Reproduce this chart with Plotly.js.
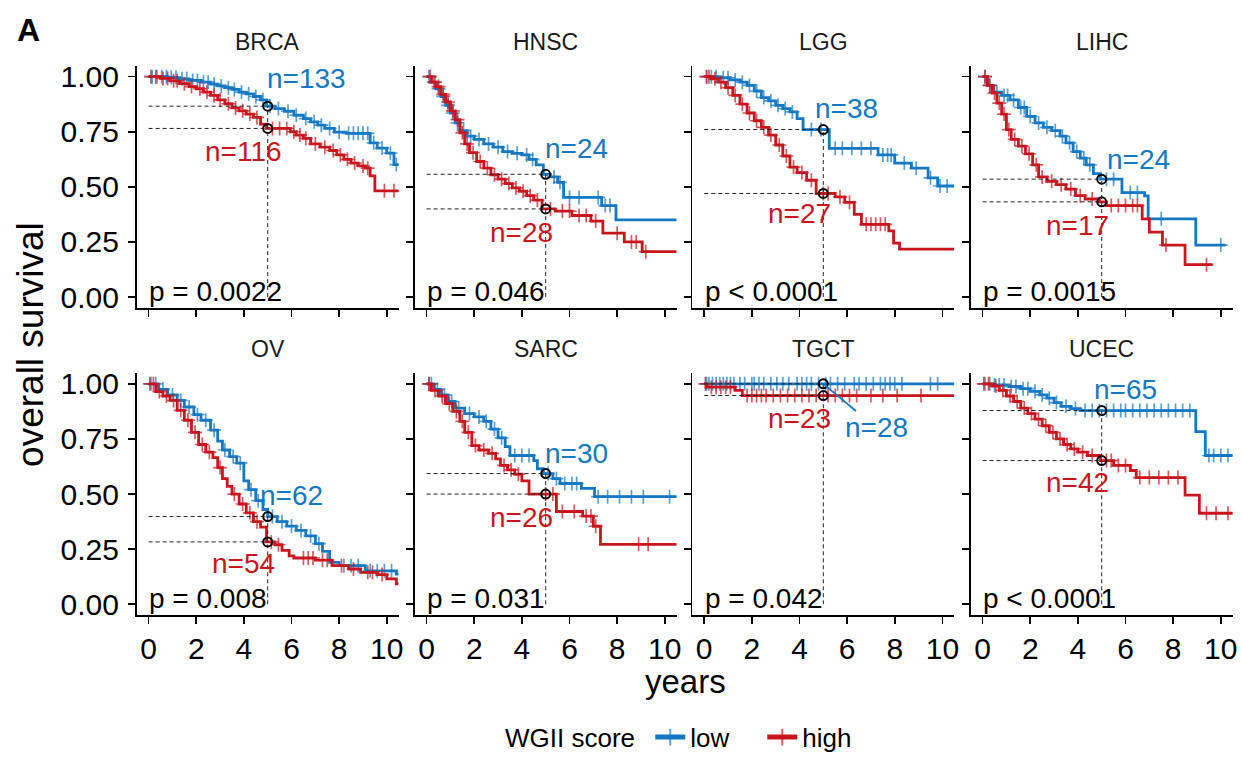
<!DOCTYPE html>
<html>
<head>
<meta charset="utf-8">
<script src="https://cdn.plot.ly/plotly-3.0.1.min.js"></script>
<style>html,body{margin:0;padding:0;background:#fff;}#chart{width:1242px;height:761px;}</style>
</head>
<body>
<div id="chart"></div>
<script>
// ---------------- DATA ----------------
const cancers = ['BRCA','HNSC','LGG','LIHC','OV','SARC','TGCT','UCEC'];
const pLabels = ['p = 0.0022','p = 0.046','p < 0.0001','p = 0.0015','p = 0.008','p = 0.031','p = 0.042','p < 0.0001'];
const nLow  = ['n=133','n=24','n=38','n=24','n=62','n=30','n=28','n=65'];
const nHigh = ['n=116','n=28','n=27','n=17','n=54','n=26','n=23','n=42'];
const groupNames = ['low','high'];
const landmarkYear = 5;
const xTicks = [0,2,4,6,8,10];
const yTicks = [0,0.25,0.5,0.75,1];
const yTickText = ['0.00','0.25','0.50','0.75','1.00'];

// step curves: time (years), survival, censor times
const BRCA_low_t = [0,0.8,1.3,1.7,2.2,2.6,2.9,3.2,3.5,3.8,4.1,4.4,4.7,4.95,5.3,5.7,6.1,6.5,6.8,7.1,7.4,7.8,8.3,9.3,9.6,10.0,10.3,10.5];
const BRCA_low_s = [1.0,0.996,0.99,0.983,0.975,0.966,0.958,0.95,0.942,0.93,0.922,0.91,0.895,0.866,0.855,0.843,0.825,0.81,0.795,0.78,0.765,0.748,0.743,0.70,0.676,0.653,0.601,0.601];
const BRCA_low_c = [0.15,0.35,0.55,0.75,0.95,1.15,1.4,1.6,1.85,2.05,2.3,2.5,2.75,3.05,3.35,3.6,3.9,4.2,4.5,4.8,5.1,5.45,5.85,6.2,6.6,6.95,7.25,7.6,8.0,8.4,8.6,8.8,9.0,9.2,9.45,9.8,10.15,10.4];
const BRCA_high_t = [0,0.5,0.9,1.3,1.7,2.0,2.3,2.6,2.9,3.2,3.5,3.8,4.1,4.4,4.7,4.95,5.95,6.2,6.5,6.8,7.2,7.6,7.9,8.2,8.5,8.8,9.1,9.3,9.5,10.5];
const BRCA_high_s = [1.0,0.992,0.981,0.968,0.955,0.945,0.93,0.915,0.895,0.877,0.858,0.845,0.83,0.815,0.785,0.765,0.75,0.735,0.72,0.695,0.68,0.665,0.645,0.625,0.608,0.595,0.585,0.55,0.482,0.482];
const BRCA_high_c = [0.1,0.3,0.6,0.8,1.05,1.2,1.5,1.8,2.15,2.45,2.75,3.0,3.35,3.65,3.95,4.25,4.55,5.2,5.5,5.8,6.1,6.35,6.6,7.0,7.4,7.75,8.05,8.35,8.65,9.0,9.2,9.9,10.3];

const HNSC_low_t = [0,0.2,0.4,0.6,0.8,1.0,1.2,1.4,1.7,2.0,2.4,2.8,3.2,3.6,4.0,4.3,4.6,4.9,5.2,5.5,5.75,7.35,7.95,10.5];
const HNSC_low_s = [1.0,0.975,0.945,0.91,0.87,0.835,0.79,0.755,0.73,0.715,0.695,0.68,0.66,0.652,0.645,0.625,0.6,0.557,0.545,0.52,0.452,0.415,0.35,0.35];
const HNSC_low_c = [0.1,0.3,0.5,0.7,0.9,1.1,1.3,1.55,1.85,2.2,2.6,3.0,3.4,3.8,4.2,4.45,5.35,5.6,6.0,6.4,7.2,7.5,7.7];
const HNSC_high_t = [0,0.2,0.4,0.6,0.8,1.0,1.2,1.4,1.6,1.8,2.1,2.4,2.7,3.0,3.3,3.6,3.9,4.2,4.5,4.85,5.4,6.1,6.9,7.4,8.3,9.05,10.5];
const HNSC_high_s = [1.0,0.975,0.955,0.92,0.885,0.845,0.805,0.745,0.695,0.655,0.615,0.585,0.555,0.535,0.515,0.495,0.48,0.46,0.44,0.40,0.39,0.37,0.345,0.29,0.25,0.206,0.206];
const HNSC_high_c = [0.15,0.35,0.5,0.7,0.9,1.1,1.3,1.5,1.7,1.95,2.25,2.55,2.85,3.15,3.45,3.75,4.05,4.35,4.65,5.2,5.7,6.0,6.4,6.7,7.1,8.0,8.6,8.8,9.2];

const LGG_low_t = [0,0.6,1.1,1.5,1.8,2.1,2.4,2.7,3.0,3.3,3.6,3.9,4.15,5.25,7.3,8.0,8.7,9.4,9.8,10.5];
const LGG_low_s = [1.0,0.995,0.985,0.975,0.96,0.935,0.905,0.89,0.87,0.855,0.84,0.81,0.76,0.675,0.645,0.608,0.585,0.541,0.504,0.504];
const LGG_low_c = [0.1,0.3,0.5,0.8,1.0,1.3,1.6,1.9,2.2,2.5,2.8,3.1,3.4,3.7,4.5,4.9,5.5,5.8,6.2,6.6,7.0,7.5,7.7,7.85,8.4,8.9,9.5,9.9,10.2];
const LGG_high_t = [0,0.3,0.6,0.9,1.2,1.5,1.8,2.1,2.4,2.7,3.0,3.3,3.6,3.9,4.3,4.7,5.5,5.9,6.3,6.6,7.75,7.95,8.2,10.5];
const LGG_high_s = [1.0,0.99,0.975,0.95,0.915,0.875,0.835,0.8,0.77,0.735,0.69,0.64,0.59,0.565,0.53,0.47,0.455,0.43,0.375,0.33,0.30,0.245,0.218,0.218];
const LGG_high_c = [0.1,0.2,0.45,0.7,1.0,1.3,1.6,1.9,2.2,2.5,2.8,3.15,3.45,3.75,4.1,4.5,5.0,5.2,5.7,6.1,6.8,7.0,7.2,7.4,7.6];

const LIHC_low_t = [0,0.2,0.45,0.8,1.15,1.5,1.85,2.2,2.55,2.9,3.25,3.5,3.8,4.1,4.35,4.65,4.95,5.85,6.8,6.95,8.95,10.2];
const LIHC_low_s = [1.0,0.96,0.93,0.915,0.895,0.86,0.82,0.79,0.77,0.755,0.73,0.70,0.66,0.63,0.60,0.56,0.535,0.474,0.459,0.355,0.236,0.236];
const LIHC_low_c = [0.1,0.3,0.6,0.9,1.05,1.3,1.6,1.75,2.0,2.35,2.7,3.05,3.35,3.65,3.95,4.25,4.5,5.2,5.5,6.2,6.5,7.5,10.0];
const LIHC_high_t = [0,0.2,0.4,0.6,0.8,1.0,1.2,1.5,1.8,2.1,2.35,2.7,3.1,3.5,3.9,4.3,4.9,5.2,6.7,7.0,7.55,8.5,9.65];
const LIHC_high_s = [1.0,0.96,0.925,0.88,0.83,0.76,0.715,0.685,0.65,0.60,0.545,0.525,0.51,0.49,0.46,0.445,0.432,0.415,0.355,0.295,0.236,0.147,0.147];
const LIHC_high_c = [0.1,0.3,0.5,0.7,0.9,1.1,1.35,1.65,1.95,2.25,2.5,2.9,3.3,3.7,4.1,4.6,5.4,5.7,6.0,6.3,6.5,7.7,9.4];

const OV_low_t = [0,0.4,0.8,1.2,1.5,1.9,2.2,2.6,2.9,3.1,3.4,3.7,4.0,4.2,4.5,4.8,5.0,5.4,5.8,6.2,6.6,7.0,7.3,7.6,8.0,9.1,10.4,10.5];
const OV_low_s = [1.0,0.975,0.95,0.925,0.895,0.86,0.835,0.79,0.74,0.70,0.67,0.64,0.56,0.52,0.47,0.43,0.398,0.375,0.355,0.335,0.31,0.275,0.24,0.19,0.175,0.152,0.137,0.137];
const OV_low_c = [0.1,0.3,0.6,1.0,1.35,1.7,2.05,2.4,2.75,3.2,3.55,3.85,4.3,4.6,5.2,5.6,6.0,6.4,6.8,7.15,8.2,8.5,8.8,9.3,9.6,9.9,10.2];
const OV_high_t = [0,0.3,0.6,0.9,1.2,1.5,1.8,2.1,2.4,2.7,2.9,3.1,3.3,3.5,3.8,4.1,4.4,4.7,4.95,5.3,5.6,5.9,6.1,7.0,7.7,8.4,8.9,9.6,10.0,10.4,10.5];
const OV_high_s = [1.0,0.965,0.945,0.925,0.88,0.835,0.78,0.725,0.69,0.665,0.62,0.57,0.535,0.50,0.455,0.415,0.375,0.35,0.283,0.27,0.245,0.22,0.21,0.20,0.175,0.16,0.145,0.135,0.115,0.093,0.093];
const OV_high_c = [0.05,0.2,0.45,0.75,1.05,1.35,1.65,1.95,2.25,2.55,3.0,3.6,3.95,4.25,4.55,5.15,5.45,6.5,6.7,6.9,7.3,7.5,8.1,8.6,9.2,9.4,9.8];

const SARC_low_t = [0,0.3,0.6,0.9,1.2,1.6,2.0,2.4,2.7,3.0,3.3,3.5,4.5,4.65,4.9,5.3,5.6,6.5,7.05,10.5];
const SARC_low_s = [1.0,0.975,0.95,0.92,0.89,0.865,0.85,0.83,0.795,0.755,0.715,0.675,0.652,0.615,0.593,0.57,0.548,0.526,0.488,0.488];
const SARC_low_c = [0.1,0.2,0.45,0.75,1.05,1.35,1.8,2.2,2.5,2.85,3.15,3.7,4.0,4.3,5.1,5.45,5.8,6.1,6.3,7.2,7.6,8.1,8.6,9.1,10.2];
const SARC_high_t = [0,0.2,0.5,0.8,1.1,1.4,1.6,1.9,2.2,2.6,2.9,3.1,3.4,3.7,4.0,4.3,5.45,6.55,7.0,7.3,10.5];
const SARC_high_s = [1.0,0.97,0.945,0.91,0.875,0.83,0.78,0.72,0.70,0.685,0.66,0.63,0.61,0.59,0.56,0.50,0.421,0.40,0.354,0.272,0.272];
const SARC_high_c = [0.1,0.35,0.65,0.95,1.25,1.5,1.75,2.05,2.4,2.75,3.25,3.55,3.85,5.0,5.3,5.7,6.2,6.7,6.9,7.1,8.9,9.3];

const TGCT_low_t = [0,10.5];
const TGCT_low_s = [1.0,1.0];
const TGCT_low_c = [0.1,0.2,0.35,0.5,0.65,0.8,0.95,1.1,1.25,1.5,1.7,2.0,2.1,2.3,2.5,2.8,3.05,3.3,3.55,3.9,4.1,4.3,4.5,4.8,5.1,5.3,5.6,5.9,6.3,6.5,6.8,7.1,7.4,7.6,7.8,8.0,8.3,9.5,9.8];
const TGCT_high_t = [0,0.1,1.3,1.6,10.5];
const TGCT_high_s = [1.0,0.985,0.97,0.947,0.947];
const TGCT_high_c = [0.05,0.3,0.5,0.7,0.9,1.1,1.8,2.0,2.2,2.4,2.6,2.9,3.2,3.5,3.8,4.1,4.4,4.7,5.2,5.5,5.8,6.1,6.4,7.0,7.5,8.1,9.1];

const UCEC_low_t = [0,0.5,1.1,1.6,2.0,2.4,2.7,3.0,3.3,3.7,4.1,8.95,9.35,10.5];
const UCEC_low_s = [1.0,0.995,0.988,0.978,0.966,0.95,0.935,0.915,0.898,0.888,0.879,0.783,0.675,0.675];
const UCEC_low_c = [0.1,0.3,0.5,0.7,0.9,1.2,1.4,1.7,1.9,2.2,2.5,2.8,3.1,3.5,3.9,4.3,4.6,4.9,5.2,5.5,5.8,6.0,6.3,6.6,6.9,7.2,7.5,7.8,8.1,8.4,8.7,9.5,9.7,10.0,10.3];
const UCEC_high_t = [0,0.4,0.7,1.0,1.3,1.6,1.9,2.2,2.5,2.8,3.1,3.4,3.7,4.0,4.4,4.95,5.5,6.2,6.45,8.5,9.1,10.5];
const UCEC_high_s = [1.0,0.99,0.97,0.945,0.92,0.89,0.865,0.84,0.81,0.78,0.75,0.725,0.705,0.69,0.675,0.652,0.63,0.607,0.575,0.495,0.413,0.413];
const UCEC_high_c = [0.05,0.25,0.55,0.85,1.15,1.45,1.75,2.05,2.35,2.65,2.95,3.25,3.55,3.85,4.2,4.6,5.2,5.4,5.7,6.0,6.6,7.0,7.4,7.8,8.2,9.4,9.8,10.3];

// ---------------- LAYOUT CONFIG (positions / styles) ----------------
const W = 1242, H = 761;
const colLeft = [136.7, 414.7, 692.3, 970.7];
const panelW = 262;
const rowTop = [66.5, 377.8];
const panelH = 245.7;
const colors = {low:'#1478C2', high:'#C8161E'};
const FONT = 'Liberation Sans, Arial, Helvetica, sans-serif';
// label centres in data units per panel
const lowLabelPos  = [[6.64,0.99],[6.29,0.675],[5.97,0.855],[6.54,0.623],[5.99,0.495],[6.29,0.682],[7.23,0.80],[6.02,0.973]];
const highLabelPos = [[4.0,0.66],[4.0,0.295],[3.99,0.377],[3.99,0.325],[4.0,0.186],[4.0,0.395],[3.99,0.843],[3.99,0.551]];

const curveData = {
  BRCA:{low:[BRCA_low_t,BRCA_low_s,BRCA_low_c], high:[BRCA_high_t,BRCA_high_s,BRCA_high_c]},
  HNSC:{low:[HNSC_low_t,HNSC_low_s,HNSC_low_c], high:[HNSC_high_t,HNSC_high_s,HNSC_high_c]},
  LGG:{low:[LGG_low_t,LGG_low_s,LGG_low_c], high:[LGG_high_t,LGG_high_s,LGG_high_c]},
  LIHC:{low:[LIHC_low_t,LIHC_low_s,LIHC_low_c], high:[LIHC_high_t,LIHC_high_s,LIHC_high_c]},
  OV:{low:[OV_low_t,OV_low_s,OV_low_c], high:[OV_high_t,OV_high_s,OV_high_c]},
  SARC:{low:[SARC_low_t,SARC_low_s,SARC_low_c], high:[SARC_high_t,SARC_high_s,SARC_high_c]},
  TGCT:{low:[TGCT_low_t,TGCT_low_s,TGCT_low_c], high:[TGCT_high_t,TGCT_high_s,TGCT_high_c]},
  UCEC:{low:[UCEC_low_t,UCEC_low_s,UCEC_low_c], high:[UCEC_high_t,UCEC_high_s,UCEC_high_c]}
};

function survAt(t, s, x){
  let v = s[0];
  for (let i=0;i<t.length;i++){ if (t[i] <= x) v = s[i]; }
  return v;
}

const traces = [];
const shapes = [];
const annotations = [];
const layout = {
  width: W, height: H,
  margin: {l:0, r:0, t:0, b:0},
  paper_bgcolor: '#ffffff', plot_bgcolor: '#ffffff',
  font: {family: FONT, color: '#000'},
  showlegend: true,
  legend: {
    orientation: 'h', x: 503/W, xanchor: 'left', y: 1 - 747/H, yanchor: 'middle',
    font: {size: 26, family: FONT, color: '#000'},
    title: {text: 'WGII score\u00a0', side: 'left', font: {size: 26, family: FONT, color: '#000'}},
    itemsizing: 'constant', traceorder: 'normal', bgcolor: 'rgba(0,0,0,0)',
    entrywidth: 67, entrywidthmode: 'pixels'
  },
  hovermode: false
};

cancers.forEach((c, i) => {
  const k = i + 1;
  const col = i % 4, row = Math.floor(i / 4);
  const xa = 'x' + k, ya = 'y' + k;
  const left = colLeft[col], top = rowTop[row];
  layout['xaxis' + k] = {
    domain: [left / W, (left + panelW) / W], anchor: ya,
    range: [-0.5, 10.5], tickvals: xTicks, ticktext: xTicks.map(String),
    showticklabels: row === 1, ticks: 'outside', ticklen: 7, tickwidth: 1.6, tickcolor: '#000',
    showline: true, linecolor: '#000', linewidth: 1.8, showgrid: false, zeroline: false,
    tickfont: {size: 30, family: FONT, color: '#000'}, ticklabelstandoff: -1, fixedrange: true
  };
  layout['yaxis' + k] = {
    domain: [1 - (top + panelH) / H, 1 - top / H], anchor: xa,
    range: [-0.05, 1.05], tickvals: yTicks, ticktext: yTickText,
    showticklabels: col === 0, ticks: 'outside', ticklen: 7, tickwidth: 1.6, tickcolor: '#000',
    showline: true, linecolor: '#000', linewidth: 1.8, showgrid: false, zeroline: false,
    tickfont: {size: 30, family: FONT, color: '#000'}, ticklabelstandoff: 3, fixedrange: true
  };

  const s5 = {};
  groupNames.forEach(g => {
    const [t, s, cens] = curveData[c][g];
    const pts = t.map((ti, j) => ({x: ti, y: s[j], c: 0}));
    cens.forEach(ct => pts.push({x: ct, y: survAt(t, s, ct), c: 1}));
    pts.sort((a, b) => a.x - b.x || a.c - b.c);
    traces.push({
      type: 'scatter', mode: 'lines+markers', xaxis: xa, yaxis: ya,
      x: pts.map(p => p.x), y: pts.map(p => p.y),
      line: {shape: 'hv', color: colors[g], width: 2.8},
      marker: {symbol: 'cross-thin', size: pts.map(p => p.c ? 10 : 0), color: colors[g], line: {width: 1.7, color: colors[g]}},
      name: g, legendgroup: g, showlegend: i === 0, hoverinfo: 'skip', cliponaxis: true
    });
    s5[g] = survAt(t, s, landmarkYear);
  });

  // landmark dashed lines
  const dashStyle = {color: '#222', width: 1, dash: '4px,3px'};
  groupNames.forEach(g => {
    shapes.push({type: 'line', xref: xa, yref: ya, x0: 0, x1: landmarkYear, y0: s5[g], y1: s5[g], line: dashStyle});
  });
  shapes.push({type: 'line', xref: xa, yref: ya, x0: landmarkYear, x1: landmarkYear, y0: 0, y1: Math.max(s5.low, s5.high), line: dashStyle});

  // circles
  traces.push({
    type: 'scatter', mode: 'markers', xaxis: xa, yaxis: ya,
    x: [landmarkYear, landmarkYear], y: [s5.low, s5.high],
    marker: {symbol: 'circle-open', size: 9, color: '#000', line: {width: 2, color: '#000'}},
    showlegend: false, hoverinfo: 'skip'
  });

  // strip title
  annotations.push({xref: 'paper', yref: 'paper', x: (left + panelW / 2) / W, y: 1 - (row === 0 ? 43 : 354) / H,
    text: c, showarrow: false, xanchor: 'center', yanchor: 'middle', font: {size: 23, family: FONT, color: '#1a1a1a'}});
  // p value
  annotations.push({xref: xa, yref: ya, x: -0.05, y: 0.025, text: pLabels[i], showarrow: false,
    xanchor: 'left', yanchor: 'middle', font: {size: 28, family: FONT, color: '#000'}});
  // n labels
  if (c === 'TGCT') {
    annotations.push({xref: xa, yref: ya, x: landmarkYear, y: s5.low, axref: xa, ayref: ya,
      ax: lowLabelPos[i][0], ay: lowLabelPos[i][1], text: nLow[i], showarrow: true, arrowhead: 0,
      arrowwidth: 1.8, arrowcolor: colors.low, standoff: 0, font: {size: 28, family: FONT, color: colors.low}});
  } else {
    annotations.push({xref: xa, yref: ya, x: lowLabelPos[i][0], y: lowLabelPos[i][1], text: nLow[i], showarrow: false,
      xanchor: 'center', yanchor: 'middle', font: {size: 28, family: FONT, color: colors.low}});
  }
  annotations.push({xref: xa, yref: ya, x: highLabelPos[i][0], y: highLabelPos[i][1], text: nHigh[i], showarrow: false,
    xanchor: 'center', yanchor: 'middle', font: {size: 28, family: FONT, color: colors.high}});
});

// global titles
annotations.push({xref: 'paper', yref: 'paper', x: 28 / W, y: 1 - 30 / H, text: '<b>A</b>', showarrow: false,
  xanchor: 'center', yanchor: 'middle', font: {size: 32, family: FONT, color: '#000'}});
annotations.push({xref: 'paper', yref: 'paper', x: 30.5 / W, y: 1 - 349 / H, text: 'overall survival', textangle: -90,
  showarrow: false, xanchor: 'center', yanchor: 'middle', font: {size: 37, family: FONT, color: '#000'}});
annotations.push({xref: 'paper', yref: 'paper', x: 685 / W, y: 1 - 691 / H, text: 'years', showarrow: false,
  xanchor: 'center', yanchor: 'middle', font: {size: 33, family: FONT, color: '#000'}});

layout.shapes = shapes;
layout.annotations = annotations;

Plotly.newPlot('chart', traces, layout, {displayModeBar: false, staticPlot: true});
</script>
</body>
</html>
